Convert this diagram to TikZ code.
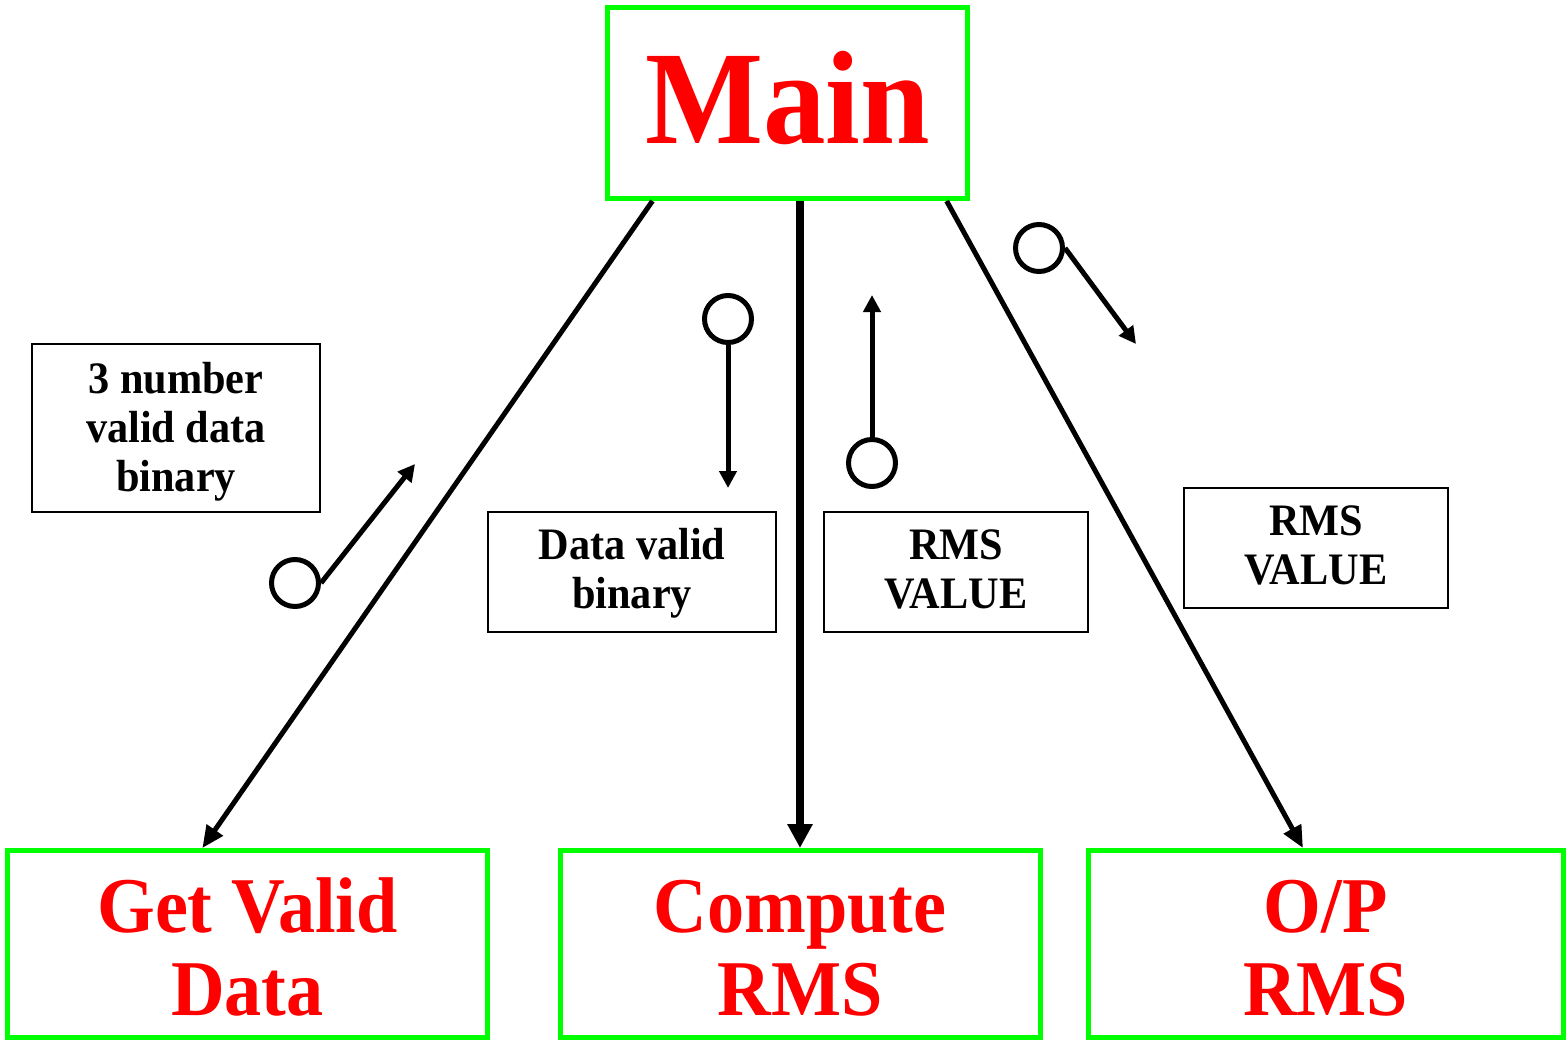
\documentclass[tikz,border=0pt]{standalone}
\usepackage{fontspec}
\usetikzlibrary{arrows.meta,calc}
\newfontfamily\dfont[FakeStretch=0.94]{Liberation Serif}
\definecolor{boxgreen}{HTML}{00FF00}
\definecolor{titlered}{HTML}{FF0000}
\tikzset{
  modbox/.style={draw=boxgreen, line width=5pt, text=titlered, align=center,
    inner sep=0pt, text height=142pt, text depth=0pt,
    font=\dfont\bfseries\fontsize{79}{83}\selectfont},
  tag/.style={draw=black, line width=2pt, align=center, inner sep=0pt,
    text height=73pt, text depth=0pt,
    font=\dfont\bfseries\fontsize{45}{49}\selectfont},
  port/.style={circle, draw=black, line width=5pt, minimum size=47pt, inner sep=0pt},
  flow/.style={line width=5pt, -{Triangle[length=17pt,width=17pt]}},
  call/.style={line width=5pt, -{Triangle[length=22pt,width=19pt]}},
  callthick/.style={line width=8pt, -{Triangle[length=24pt,width=24pt]}},
}
\begin{document}
\begin{tikzpicture}[x=1pt, y=-1pt]
\useasboundingbox (0,0) rectangle (1566,1039);

% modules
\node[modbox, minimum width=360pt, minimum height=191pt, text height=80pt, text depth=0pt,
  font=\dfont\bfseries\fontsize{133}{140}\selectfont] (main) at (787.5,103) {Main};
\node[modbox, minimum width=480pt, minimum height=187pt] (getdata) at (247.5,944) {Get Valid\\Data};
\node[modbox, minimum width=480pt, minimum height=187pt] (compute) at (800,944) {Compute\\RMS};
\node[modbox, minimum width=475pt, minimum height=187pt] (output) at (1325.5,944) {O/P\\RMS};

% calls from Main
\draw[call] ($(main.south west)!0.13!(main.south east)$) -- ($(getdata.north west)!0.407!(getdata.north east)$);
\draw[callthick] (main.south -| compute.north) -- (compute.north);
\draw[call] ($(main.south west)!0.936!(main.south east)$) -- ($(output.north west)!0.453!(output.north east)$);

% data couples
\node[tag, minimum width=288pt, minimum height=168pt, text height=126pt]
  (tagA) at (176,428) {3 number\\valid data\\binary};
\node[tag, minimum width=288pt, minimum height=120pt] (tagB) at (632,572) {Data valid\\binary};
\node[tag, minimum width=264pt, minimum height=120pt] (tagC) at (956,572) {RMS\\VALUE};
\node[tag, minimum width=264pt, minimum height=120pt] (tagD) at (1316,548) {RMS\\VALUE};

\node[port] (pA) at (295,583) {};
\coordinate (eA) at (415,464);
\draw[flow] (pA.east) -- (eA);

\node[port] (pB) at (728,319) {};
\coordinate (eB) at (728,488);
\draw[flow] (pB) -- (eB);

\node[port] (pC) at (872,463) {};
\coordinate (eC) at (872,295);
\draw[flow] (pC) -- (eC);

\node[port] (pD) at (1039,248) {};
\coordinate (eD) at (1136,344);
\draw[flow] (pD.east) -- (eD);
\end{tikzpicture}
\end{document}
